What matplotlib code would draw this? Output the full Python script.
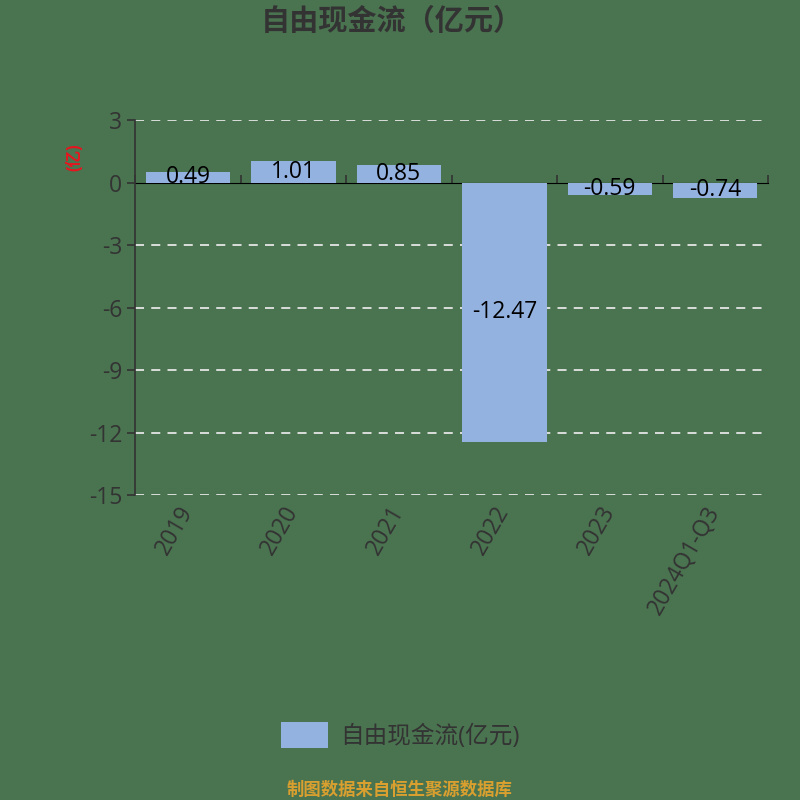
import matplotlib
matplotlib.use("Agg")
from matplotlib import pyplot as plt
from matplotlib.patches import Patch

plt.rcParams['font.family'] = ['Open Sans', 'Noto Sans CJK SC', 'DejaVu Sans']

# data
years = ['2019', '2020', '2021', '2022', '2023', '2024Q1-Q3']
fcf = [0.49, 1.01, 0.85, -12.47, -0.59, -0.74]
y_ticks = [3, 0, -3, -6, -9, -12, -15]

BG = '#4a7350'
BAR = '#93b2e0'
TXT = '#333333'

fig = plt.figure(figsize=(8, 8), dpi=100, facecolor=BG)
ax = fig.add_axes([0.169, 0.381, 0.791, 0.469], facecolor=BG)

x = list(range(len(years)))
bars = ax.bar(x, fcf, width=0.8, color=BAR, zorder=3)
for xi, v in zip(x, fcf):
    ax.text(xi, v / 2, f'{v:.2f}', ha='center', va='center', fontsize=16.5,
            color='black', zorder=4)

ax.set_xlim(-0.5, len(years) - 0.5)
ax.set_ylim(-15, 3)
ax.set_yticks(y_ticks)
ax.set_yticklabels([str(t) for t in y_ticks], fontsize=16.5, color=TXT)
for t in y_ticks:
    if t != 0:
        ax.axhline(t, color='#e6e6e6', lw=1.3, ls=(0, (5, 4)), zorder=1)

ax.set_xticks(x)
ax.set_xticklabels(years, rotation=60, ha='right', va='center',
                   rotation_mode='anchor', fontsize=16.5, color=TXT)
ax.tick_params(axis='x', length=0, pad=9)
ax.tick_params(axis='y', length=6, color=TXT, width=1.2)

for s in ['top', 'right', 'bottom']:
    ax.spines[s].set_visible(False)
ax.spines['left'].set_color(TXT)
ax.spines['left'].set_linewidth(1.2)

# zero axis with boundary ticks
zero_pos = (0 - (-15)) / (3 - (-15))
sec = ax.secondary_xaxis(zero_pos)
sec.set_xticks([i - 0.5 for i in range(len(years) + 1)])
sec.set_xticklabels([])
sec.tick_params(length=6, color=TXT, width=1.2, direction='out')
sec.spines['bottom'].set_color(TXT)
sec.spines['bottom'].set_linewidth(1.2)

ax.text(-0.096, 0.9, '(亿)', transform=ax.transAxes, rotation=90, color='#e8141e',
        fontsize=12, fontweight='bold', ha='center', va='center')

fig.text(0.49, 0.972, '自由现金流（亿元）', ha='center', va='center', fontsize=21,
         fontweight='bold', color=TXT)

fig.legend(handles=[Patch(facecolor=BAR, edgecolor='none', label='自由现金流(亿元)')],
           loc='center', bbox_to_anchor=(0.5, 0.081), frameon=False, fontsize=17,
           labelcolor=TXT, handlelength=2.0, handleheight=1.3, handletextpad=0.5)

fig.text(0.5, 0.013, '制图数据来自恒生聚源数据库', ha='center', va='center',
         fontsize=12.5, fontweight='bold', color='#d9a030')

fig.savefig('out.png', dpi=100, facecolor=BG)
